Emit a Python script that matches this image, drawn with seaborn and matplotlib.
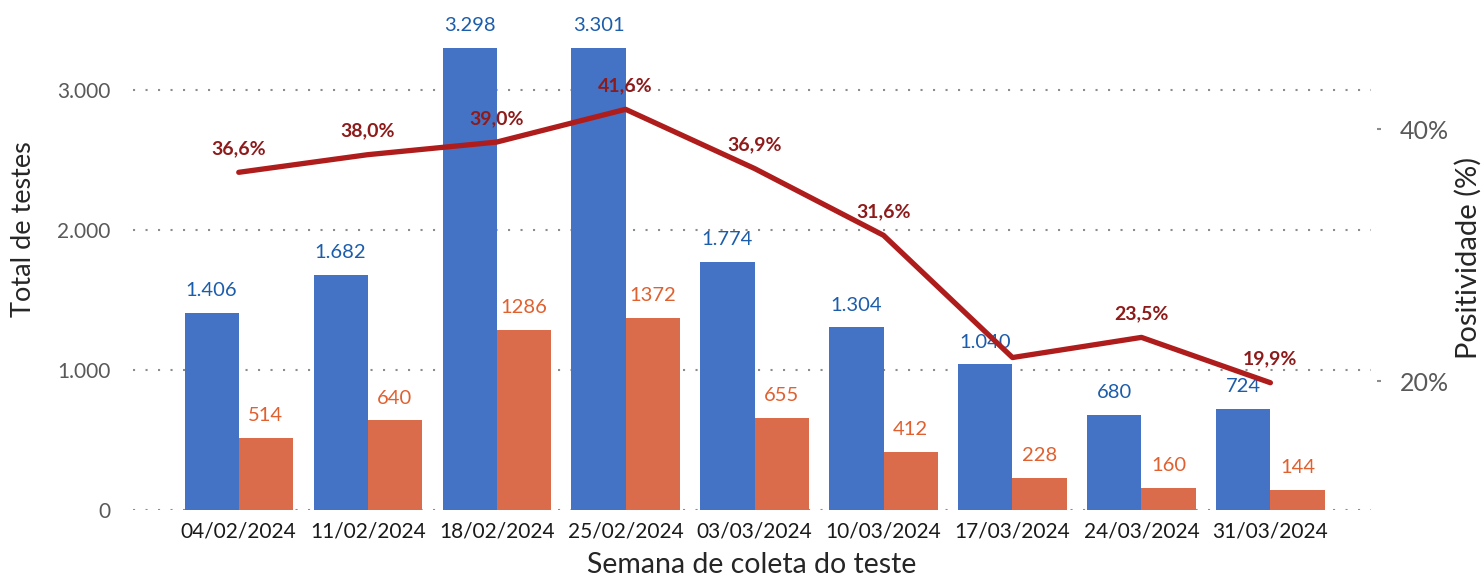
import matplotlib
matplotlib.use("Agg")
import matplotlib.pyplot as plt
import seaborn as sns
import pandas as pd
import numpy as np

semanas = ["04/02/2024", "11/02/2024", "18/02/2024", "25/02/2024", "03/03/2024",
           "10/03/2024", "17/03/2024", "24/03/2024", "31/03/2024"]
total_testes = [1406, 1682, 3298, 3301, 1774, 1304, 1040, 680, 724]
positivos = [514, 640, 1286, 1372, 655, 412, 228, 160, 144]
positividade = [36.6, 38.0, 39.0, 41.6, 36.9, 31.6, 21.9, 23.5, 19.9]
rotulos_pos = ["36,6%", "38,0%", "39,0%", "41,6%", "36,9%", "31,6%", "", "23,5%", "19,9%"]

AZUL = "#4472C4"
LARANJA = "#DA6C4C"
VERMELHO = "#AE1C1C"

n = len(semanas)
df = pd.DataFrame({
    "semana": semanas * 2,
    "valor": total_testes + positivos,
    "serie": ["Total"] * n + ["Positivos"] * n,
})

sns.set_theme(style="white")
plt.rcParams["font.family"] = ["Lato", "DejaVu Sans"]

fig = plt.figure(figsize=(14.82, 5.82), dpi=100)
ax = fig.add_axes([133 / 1482, 72 / 582, (1371 - 133) / 1482, 504 / 582])

sns.barplot(data=df, x="semana", y="valor", hue="serie", palette=[AZUL, LARANJA],
            width=0.84, gap=0, saturation=1, legend=False, linewidth=0, ax=ax)

fmt = lambda v: f"{v:,}".replace(",", ".")
ax.bar_label(ax.containers[0], labels=[fmt(v) for v in total_testes], padding=10,
             color="#1C5DAB", fontsize=14.5)
ax.bar_label(ax.containers[1], labels=[str(v) for v in positivos], padding=10,
             color="#E0602F", fontsize=14.5)

ax.set_ylim(0, 3600)
ax.set_yticks([0, 1000, 2000, 3000])
ax.set_yticklabels(["0", "1.000", "2.000", "3.000"])
ax.grid(axis="y", linestyle=(0, (1, 5)), color="#8c8c8c", linewidth=1.5)
ax.set_axisbelow(True)
sns.despine(ax=ax, left=True, bottom=True)
ax.tick_params(axis="y", length=0, pad=16, labelsize=15, labelcolor="#595959")
ax.tick_params(axis="x", length=0, pad=8, labelsize=15, labelcolor="#1a1a1a")
ax.set_xlabel("Semana de coleta do teste", fontsize=20.5, color="#262626", labelpad=8)
ax.set_ylabel("Total de testes", fontsize=19.5, color="#262626")
ax.yaxis.set_label_coords(-0.078, 0.557)

ax2 = ax.twinx()
sns.lineplot(x=np.arange(n), y=positividade, ax=ax2, color=VERMELHO, linewidth=3.8,
             solid_capstyle="round")
for i, r in enumerate(rotulos_pos):
    if r:
        ax2.annotate(r, (i, positividade[i]), xytext=(0, 11), textcoords="offset points",
                     ha="center", va="bottom", fontsize=14, fontweight="bold",
                     color="#8E1B1B")

ax2.set_ylim(9.8, 49.8)
ax2.set_yticks([20, 40])
ax2.set_yticklabels(["20%", "40%"])
for s in ["top", "left", "bottom"]:
    ax2.spines[s].set_visible(False)
ax2.spines["right"].set_position(("outward", 4))
ax2.spines["right"].set_visible(False)
ax2.tick_params(axis="y", length=3, width=1.5, color="#8c8c8c", pad=14,
                labelsize=18, labelcolor="#595959")
ax2.set_ylabel("Positividade (%)", fontsize=21, color="#262626", labelpad=4)
ax2.grid(False)

ax.set_xlim(-0.82, 8.78)

fig.savefig("out.png", dpi=100)
